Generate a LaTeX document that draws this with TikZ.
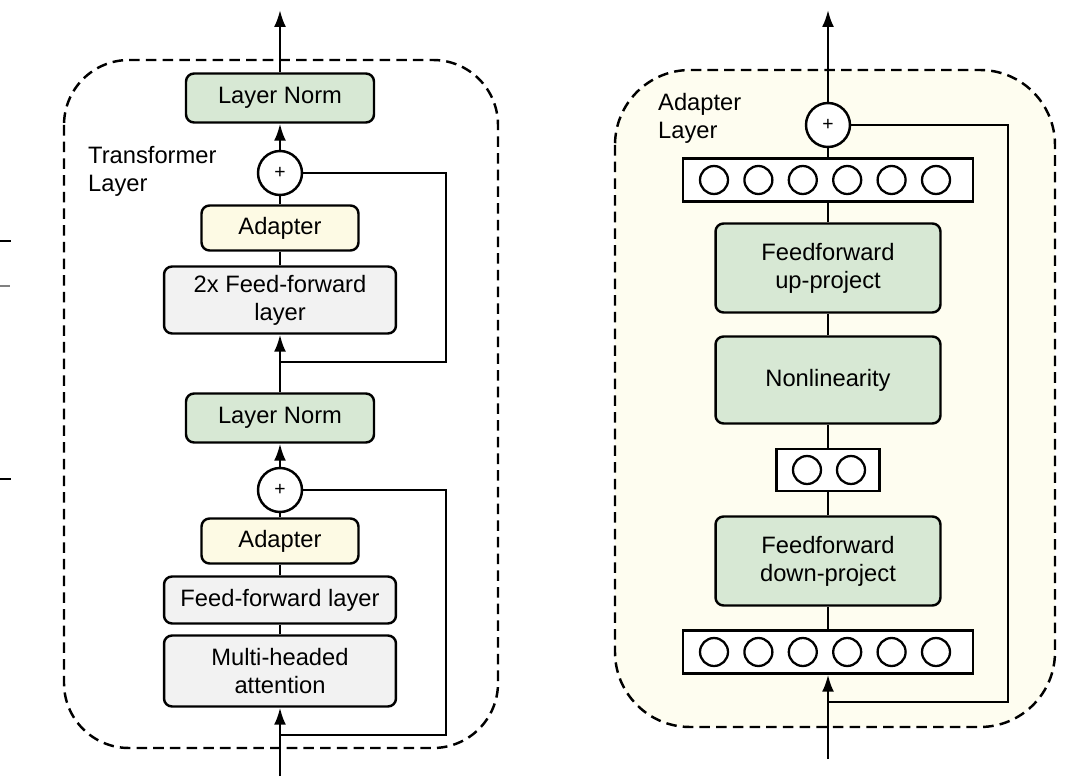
\documentclass[tikz,border=0pt]{standalone}
\usepackage{fontspec}
\setmainfont{Liberation Sans}
\usepackage{xcolor}
\usepackage{tikz}
\usetikzlibrary{positioning,
                calc,
                arrows.meta}
\definecolor{normgreen}{RGB}{215,232,212}
\definecolor{adaptcream}{RGB}{253,250,228}
\definecolor{ffgrey}{RGB}{242,242,242}
\definecolor{panelcream}{RGB}{254,253,240}
\tikzset{block/.style = {draw,
                     rounded corners=0.16cm,
                     line width=1.4pt,
                     align=center,
                     inner sep=2pt
                    },
         normbox/.style = {block, fill=normgreen,
                     minimum width=3.76cm, minimum height=0.98cm},
         adaptbox/.style = {block, fill=adaptcream,
                     minimum width=3.14cm, minimum height=0.9cm},
         ffbox/.style = {block, fill=ffgrey,
                     minimum width=4.64cm, minimum height=#1},
         projbox/.style = {block, fill=normgreen,
                     minimum width=4.5cm, minimum height=#1},
         vecbox/.style = {draw, fill=white, line width=1.4pt,
                     minimum width=#1, minimum height=0.86cm},
         unit/.style = {draw, circle, line width=1.3pt,
                     minimum size=0.56cm, inner sep=0pt},
         plus/.style = {draw, circle, fill=white, line width=1.4pt,
                     minimum size=0.88cm, inner sep=0pt,
                     font=\fontsize{11}{12}\selectfont},
         flow/.style = {line width=1.4pt},
         flowarrow/.style = {flow, -{Latex[length=0.34cm,width=0.24cm]}},
         panel/.style = {line width=1.4pt,
                     dash pattern=on 6pt off 3.5pt}
        }
\begin{document}
\begin{tikzpicture}[x=0.02cm,y=-0.02cm,
        every node/.style={font=\fontsize{13.5}{16}\selectfont}]
        \useasboundingbox (0,0) rectangle (1066,784);

        % pieces cut at the left edge
        \draw[line width=1.5pt] (0,241) -- (11,241);
        \draw[line width=0.8pt,gray] (0,286) -- (10,286);
        \draw[line width=1.5pt] (0,479) -- (11,479);

        % panels
        \draw[panel,rounded corners=1.3cm] (64,60) rectangle (498,748);
        \draw[panel,fill=panelcream,rounded corners=1.5cm] (615,70) rectangle (1055,727);

        % transformer layer
        \node[normbox] (ln1) at (280,98) {Layer Norm};
        \node[plus] (plus1) at (280,173) {+};
        \node[adaptbox] (ad1) at (280,228) {Adapter};
        \node[ffbox=1.34cm] (ff2) at (280,300) {2x Feed-forward\\layer};
        \node[normbox] (ln2) at (280,418) {Layer Norm};
        \node[plus] (plus2) at (280,490) {+};
        \node[adaptbox] (ad2) at (280,541) {Adapter};
        \node[ffbox=0.94cm] (ff1) at (280,600) {Feed-forward layer};
        \node[ffbox=1.42cm] (mha) at (280,671) {Multi-headed\\attention};
        \node[anchor=west,align=left] (tlabel) at (82,171) {Transformer\\Layer};

        \coordinate (out1) at (280,10);
        \coordinate (in1) at (280,776);
        \coordinate (sk1) at (446,362);
        \coordinate (sk2) at (446,735);

        \draw[flowarrow] (ln1.north) -- (out1);
        \draw[flowarrow] (plus1.north) -- (ln1.south);
        \draw[flow] (ad1.north) -- (plus1.south);
        \draw[flow] (ff2.north) -- (ad1.south);
        \draw[flowarrow] (ln2.north) -- (ff2.south);
        \draw[flow] (plus1.east) -| (sk1) -- (sk1 -| ln2.north);
        \draw[flowarrow] (plus2.north) -- (ln2.south);
        \draw[flow] (ad2.north) -- (plus2.south);
        \draw[flow] (ff1.north) -- (ad2.south);
        \draw[flow] (mha.north) -- (ff1.south);
        \draw[flowarrow] (in1) -- (mha.south);
        \draw[flow] (plus2.east) -| (sk2) -- (sk2 -| mha.south);

        % adapter layer
        \node[plus] (plus3) at (828,125) {+};
        \node[vecbox=5.8cm] (vecup) at (828,180) {};
        \node[projbox=1.78cm] (up) at (828,268) {Feedforward\\up-project};
        \node[projbox=1.74cm] (nl) at (828,380) {Nonlinearity};
        \node[vecbox=2.06cm,minimum height=0.84cm] (vecsm) at (828,470) {};
        \node[projbox=1.78cm] (down) at (828,561) {Feedforward\\down-project};
        \node[vecbox=5.8cm] (vecdown) at (828,652) {};
        \node[anchor=west,align=left] (alabel) at (652,118) {Adapter\\Layer};

        \foreach \i in {1,...,6}{
            \node[unit] (upu\i) at ({714+44.4*(\i-1)},180) {};
            \node[unit] (downu\i) at ({714+44.4*(\i-1)},652) {};
        }
        \node[unit] (smu1) at (807,470) {};
        \node[unit] (smu2) at (851,470) {};

        \coordinate (out2) at (828,10);
        \coordinate (in2) at (828,759);
        \coordinate (sk3) at (1008,702);

        \draw[flowarrow] (plus3.north) -- (out2);
        \draw[flow] (vecup.north) -- (plus3.south);
        \draw[flow] (up.north) -- (vecup.south);
        \draw[flow] (nl.north) -- (up.south);
        \draw[flow] (vecsm.north) -- (nl.south);
        \draw[flow] (down.north) -- (vecsm.south);
        \draw[flow] (vecdown.north) -- (down.south);
        \draw[flowarrow] (in2) -- (vecdown.south);
        \draw[flow] (plus3.east) -| (sk3) -- (sk3 -| vecdown.south);
    \end{tikzpicture}
\end{document}
